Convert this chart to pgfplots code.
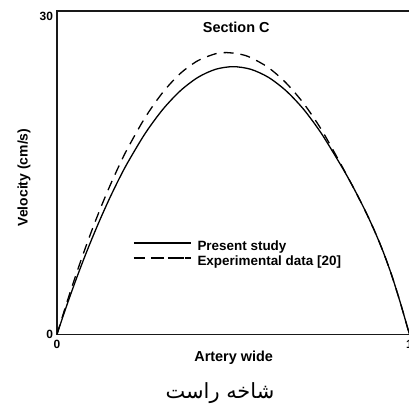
\documentclass[border=0pt]{standalone}
\usepackage{fontspec}
\setmainfont{Liberation Sans}
\newfontfamily\persianfont[Script=Arabic]{DejaVu Sans}
\usepackage{pgfplots}
\pgfplotsset{compat=1.18}
\TeXXeTstate=1
\begin{document}
\begin{tikzpicture}
\begin{axis}[
  at={(0,0)}, anchor=south west,
  scale only axis, width=352.4bp, height=323.3bp,
  xmin=0, xmax=1, ymin=0, ymax=30.55,
  xtick={0,1}, ytick={0,30},
  xticklabels={0,1}, yticklabels={0,30},
  major tick length=0pt,
  axis line style={line width=1.3bp, black!90},
  tick label style={font=\bfseries\fontsize{12}{13}\selectfont},
  /pgf/number format/assume math mode=true,
  xticklabel style={yshift=-2bp},
  yticklabel style={xshift=-0.5bp},
  title={Section C},
  title style={at={(axis description cs:0.5087,0.9298)}, anchor=center, font=\bfseries\fontsize{14.5}{16}\selectfont},
  xlabel={Artery wide},
  every axis x label/.style={at={(axis description cs:0.5014,-0.0733)}, anchor=center, font=\bfseries\fontsize{14.5}{16}\selectfont},
  ylabel={Velocity (cm/s)},
  every axis y label/.style={at={(axis description cs:-0.0936,0.485)}, rotate=90, anchor=center, font=\bfseries\fontsize{14}{16}\selectfont},
  legend image code/.code={\draw[#1] (0bp,3.5bp) -- (57bp,3.5bp);},
  legend style={at={(axis description cs:0.2157,0.2932)}, anchor=north west, draw=none, fill=none, inner sep=0pt, column sep=6bp, row sep=1.5bp,
    font=\bfseries\fontsize{13.5}{15}\selectfont,
    nodes={inner sep=0pt, text height=10.5bp, text depth=3bp}},
  legend cell align=left,
]
\addplot[black, line width=1.3bp, smooth] coordinates {
(0,0) (0.025,2.47) (0.05,4.81) (0.075,7.02) (0.1,9.10) (0.125,11.06)
(0.15,12.90) (0.175,14.61) (0.2,16.19) (0.25,18.97) (0.3,21.24)
(0.35,23.01) (0.4,24.28) (0.45,25.04) (0.5,25.29) (0.55,25.04)
(0.6,24.28) (0.65,23.01) (0.7,21.25) (0.75,18.99) (0.8,16.28)
(0.825,14.85) (0.85,13.30) (0.875,11.65) (0.9,9.85) (0.925,7.85)
(0.95,5.55) (0.975,2.90) (1,0)
};
\addlegendentry{Present study}
\addplot[black, line width=1.3bp, dash pattern=on 10bp off 7bp, smooth,
  legend image code/.code={\path (0bp,3.5bp) -- (57bp,3.5bp); \draw[black, line width=1.3bp, dash pattern=on 11bp off 8.5bp] (0bp,3.5bp) -- (50bp,3.5bp);}] coordinates {
(0,0) (0.025,2.70) (0.05,5.25) (0.075,7.65) (0.1,9.92) (0.125,12.04)
(0.15,14.02) (0.175,15.85) (0.2,17.54) (0.25,20.48) (0.3,22.85)
(0.35,24.65) (0.4,25.86) (0.45,26.51) (0.481,26.62) (0.52,26.47)
(0.55,26.14) (0.6,25.20) (0.65,23.75) (0.7,21.81) (0.75,19.36)
(0.8,16.41) (0.825,14.87) (0.85,13.30) (0.875,11.65) (0.9,9.85)
(0.925,7.85) (0.95,5.55) (0.975,2.90) (1,0)
};
\addlegendentry{Experimental data [20]}
\end{axis}
\node[font=\persianfont\fontsize{21}{24}\selectfont, anchor=center] at (163bp,-58.5bp) {\beginR شاخه راست\endR};
\pgfresetboundingbox
\path[use as bounding box] (-57bp,-70.7bp) rectangle (352bp,334.3bp);
\end{tikzpicture}
\end{document}
